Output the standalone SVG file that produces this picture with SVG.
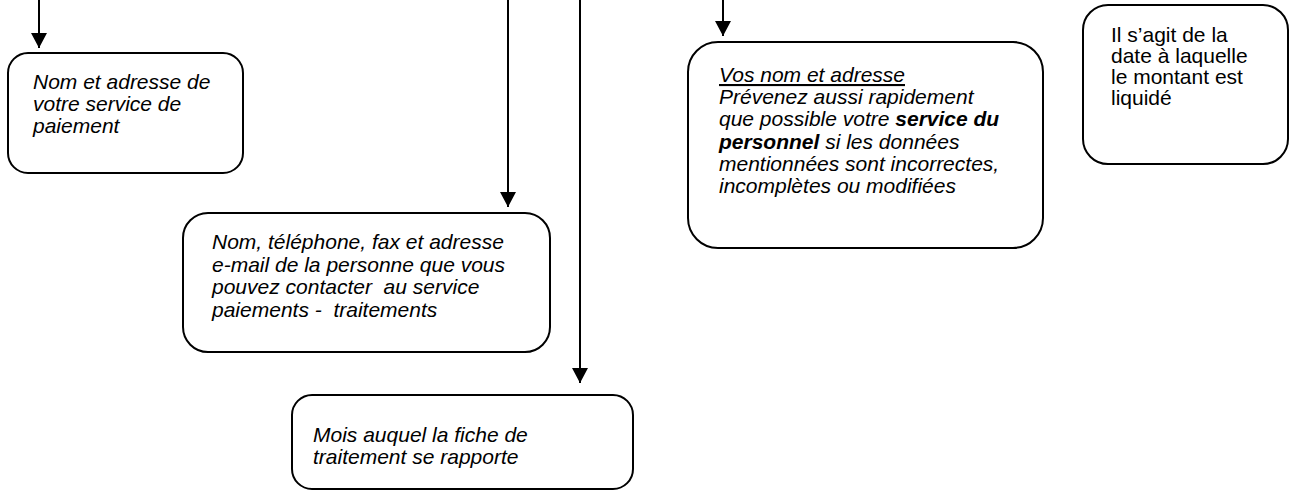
<svg xmlns="http://www.w3.org/2000/svg" width="1290" height="494" viewBox="0 0 1290 494">
<style>
.box{fill:#fff;stroke:#000;stroke-width:2}
.t{font-family:"Liberation Sans",Arial,sans-serif;font-size:21px;font-style:italic;fill:#000}
.n{font-style:normal}
.b{font-weight:bold}
.c{stroke:#000;stroke-width:2;fill:none}
</style>
<defs>
<marker id="ah" markerUnits="userSpaceOnUse" markerWidth="16" markerHeight="16" viewBox="0 0 16 16" refX="15" refY="8" orient="auto">
<path d="M0,0 L15,8 L0,16 Z" fill="#000"/>
</marker>
</defs>
<g id="connectors">
<line class="c" x1="39" y1="0" x2="39" y2="48" marker-end="url(#ah)"/>
<line class="c" x1="508" y1="0" x2="508" y2="207" marker-end="url(#ah)"/>
<line class="c" x1="580" y1="0" x2="580" y2="383" marker-end="url(#ah)"/>
<line class="c" x1="723" y1="0" x2="723" y2="36" marker-end="url(#ah)"/>
</g>
<g id="node1">
<rect class="box" x="8" y="53" width="235" height="120" rx="20"/>
<text class="t" x="33" y="89">Nom et adresse de</text>
<text class="t" x="33" y="111">votre service de</text>
<text class="t" x="33" y="133">paiement</text>
</g>
<g id="node2">
<rect class="box" x="183" y="213" width="367" height="139" rx="25"/>
<text class="t" x="212" y="249">Nom, téléphone, fax et adresse</text>
<text class="t" x="212" y="272">e-mail de la personne que vous</text>
<text class="t" x="212" y="294" xml:space="preserve">pouvez contacter  au service</text>
<text class="t" x="212" y="317" xml:space="preserve">paiements -  traitements</text>
</g>
<g id="node3">
<rect class="box" x="292" y="395" width="341" height="94" rx="20"/>
<text class="t" x="313" y="442">Mois auquel la fiche de</text>
<text class="t" x="313" y="464">traitement se rapporte</text>
</g>
<g id="node4">
<rect class="box" x="688" y="42" width="355" height="206" rx="30"/>
<text class="t" x="719" y="82" text-decoration="underline">Vos nom et adresse</text>
<text class="t" x="719" y="104">Prévenez aussi rapidement</text>
<text class="t" x="719" y="126">que possible votre <tspan class="b">service du</tspan></text>
<text class="t" x="719" y="149"><tspan class="b">personnel</tspan> si les données</text>
<text class="t" x="719" y="171">mentionnées sont incorrectes,</text>
<text class="t" x="719" y="193">incomplètes ou modifiées</text>
</g>
<g id="node5">
<rect class="box" x="1083" y="5" width="205" height="159" rx="25"/>
<text class="t n" x="1111" y="42">Il s’agit de la</text>
<text class="t n" x="1111" y="63">date à laquelle</text>
<text class="t n" x="1111" y="84">le montant est</text>
<text class="t n" x="1111" y="105">liquidé</text>
</g>
</svg>
